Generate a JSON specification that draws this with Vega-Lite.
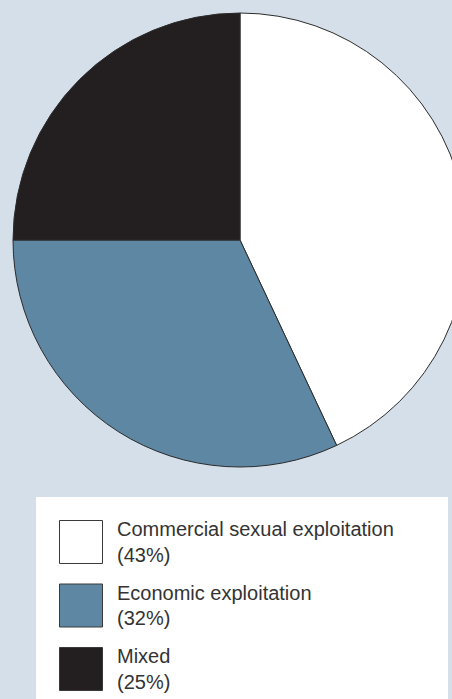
{
  "$schema": "https://vega.github.io/schema/vega-lite/v6.json",
  "autosize": "none",
  "padding": 0,
  "width": 452,
  "height": 699,
  "background": "#d5dfe9",
  "data": {
    "values": [
      {"category": "Commercial sexual exploitation\\n(43%)", "share": 43},
      {"category": "Economic exploitation\\n(32%)", "share": 32},
      {"category": "Mixed\\n(25%)", "share": 25}
    ]
  },
  "mark": {"type": "arc", "outerRadius": 227, "x": 240, "y": 240, "stroke": "#2b2b2b", "strokeWidth": 1},
  "encoding": {
    "theta": {"field": "share", "type": "quantitative", "stack": true},
    "order": {"field": "share", "sort": "descending"},
    "color": {
      "field": "category",
      "type": "nominal",
      "scale": {
        "domain": ["Commercial sexual exploitation\\n(43%)", "Economic exploitation\\n(32%)", "Mixed\\n(25%)"],
        "range": ["#ffffff", "#5e87a3", "#231f20"]
      },
      "legend": {
        "orient": "none",
        "legendX": 36,
        "legendY": 497,
        "title": " ",
        "titleOrient": "right",
        "titlePadding": 31,
        "fillColor": "#ffffff",
        "padding": 23,
        "symbolType": "square",
        "symbolSize": 1849,
        "symbolStrokeColor": "#3a3a3a",
        "symbolStrokeWidth": 1,
        "symbolOpacity": 1,
        "labelFont": "Liberation Sans",
        "labelFontSize": 20,
        "labelColor": "#333333",
        "labelOffset": 14,
        "labelLimit": 400,
        "rowPadding": 15.5,
        "labelExpr": "split(datum.label, '\\\\n')",
        "encode": {
          "labels": {"update": {"dy": {"value": -12}, "lineHeight": {"value": 25.5}}}
        }
      }
    }
  },
  "config": {"view": {"stroke": null}}
}
